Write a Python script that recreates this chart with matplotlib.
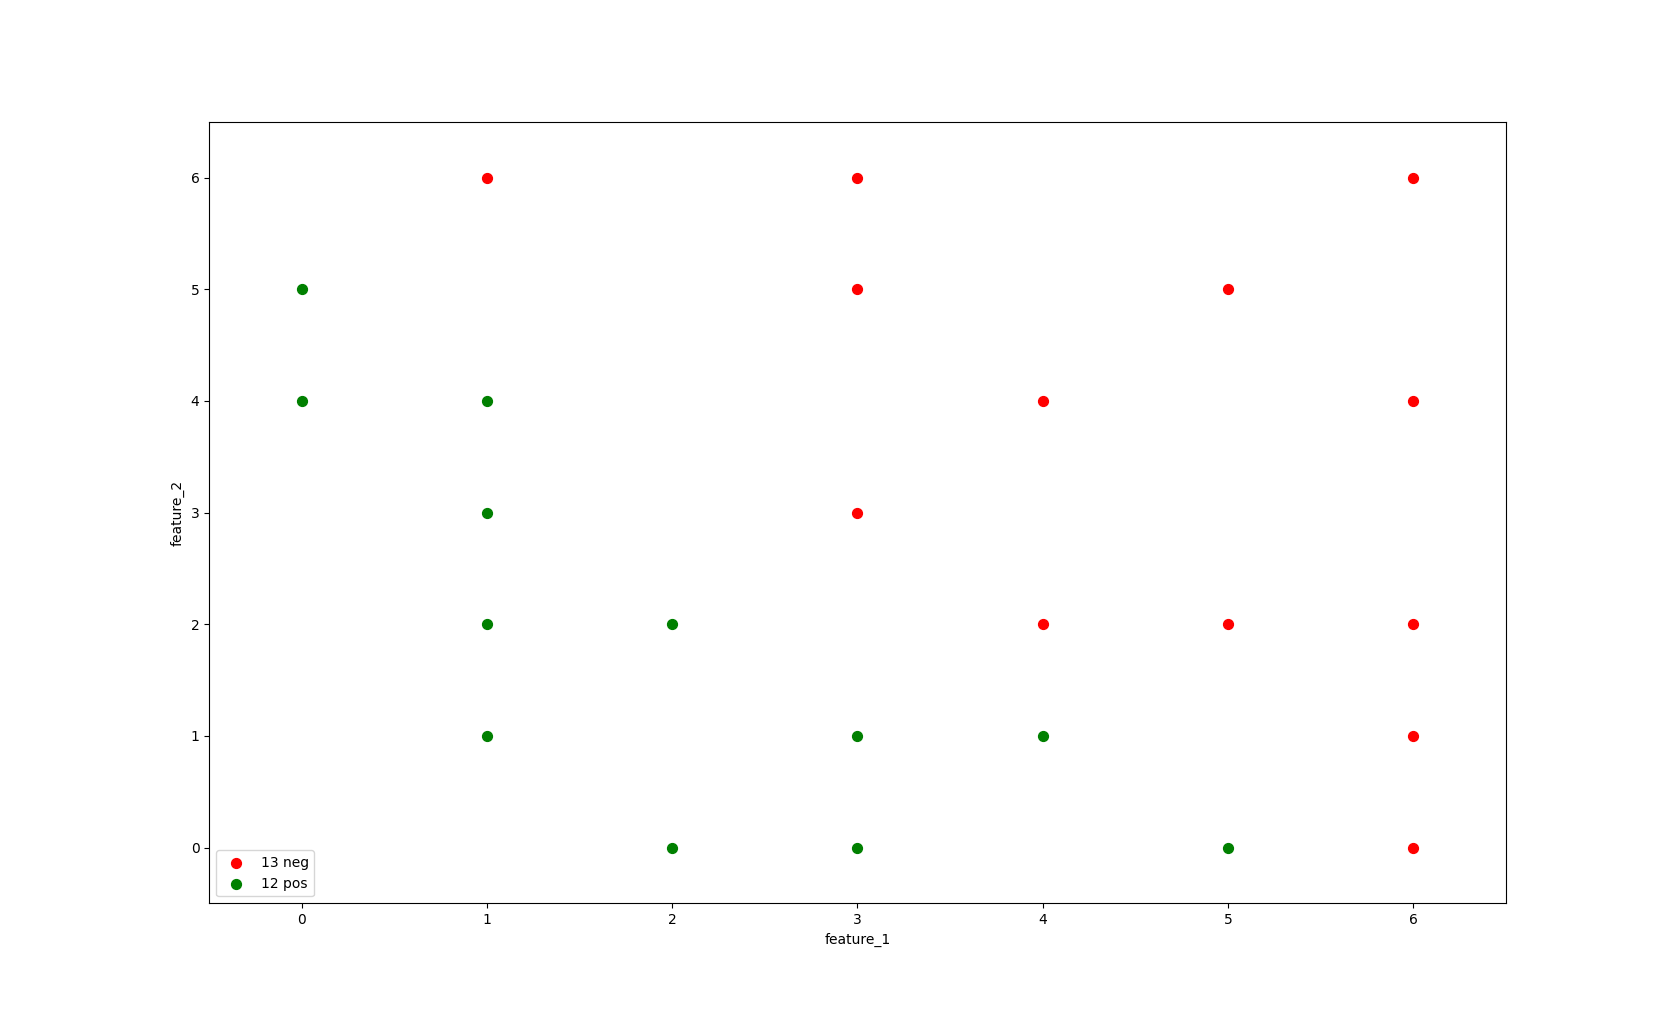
import matplotlib
matplotlib.use("Agg")
import matplotlib.pyplot as plt

# negative class points
neg_f1 = [1, 3, 6, 3, 5, 4, 6, 3, 4, 5, 6, 6, 6]
neg_f2 = [6, 6, 6, 5, 5, 4, 4, 3, 2, 2, 2, 1, 0]

# positive class points
pos_f1 = [0, 0, 1, 1, 1, 2, 1, 3, 4, 2, 3, 5]
pos_f2 = [5, 4, 4, 3, 2, 2, 1, 1, 1, 0, 0, 0]

fig, ax = plt.subplots(figsize=(16.73, 10.15), dpi=100)
ax.scatter(neg_f1, neg_f2, color='red', s=50, label=f'{len(neg_f1)} neg')
ax.scatter(pos_f1, pos_f2, color='green', s=50, label=f'{len(pos_f1)} pos')
ax.set_xlim(-0.5, 6.5)
ax.set_ylim(-0.5, 6.5)
ax.set_xlabel('feature_1')
ax.set_ylabel('feature_2')
ax.legend(loc='lower left')

plt.savefig('out.png', dpi=100)
